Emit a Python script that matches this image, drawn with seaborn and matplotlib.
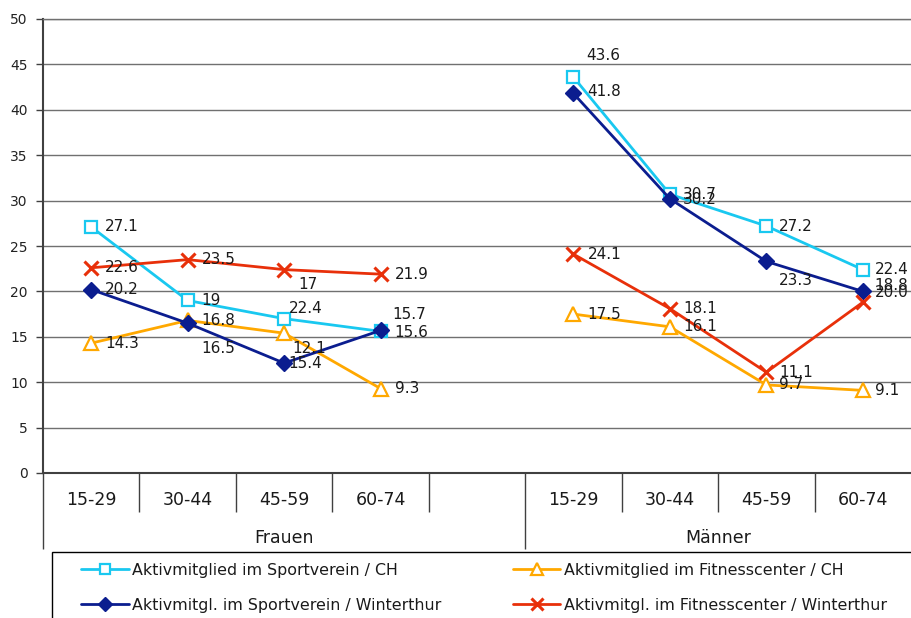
import numpy as np
import pandas as pd
import matplotlib
matplotlib.use("Agg")
import matplotlib.pyplot as plt
from matplotlib.patches import Rectangle
import seaborn as sns

# ---------------- data ----------------
age_groups = ["15-29", "30-44", "45-59", "60-74"]
sexes = ["Frauen", "Männer"]

series_names = [
    "Aktivmitglied im Sportverein / CH",
    "Aktivmitglied im Fitnesscenter / CH",
    "Aktivmitgl. im Sportverein / Winterthur",
    "Aktivmitgl. im Fitnesscenter / Winterthur",
]

# values: Frauen 15-29..60-74, then Männer 15-29..60-74
sport_ch = [27.1, 19.0, 17.0, 15.6, 43.6, 30.7, 27.2, 22.4]
fitness_ch = [14.3, 16.8, 15.4, 9.3, 17.5, 16.1, 9.7, 9.1]
sport_wi = [20.2, 16.5, 12.1, 15.7, 41.8, 30.2, 23.3, 20.0]
fitness_wi = [22.6, 23.5, 22.4, 21.9, 24.1, 18.1, 11.1, 18.8]

# data labels as shown on the chart
lbl_sport_ch = ["27.1", "19", "22.4", "15.6", "43.6", "30.7", "27.2", "22.4"]
lbl_fitness_ch = ["14.3", "16.8", "12.1", "9.3", "17.5", "16.1", "9.7", "9.1"]
lbl_sport_wi = ["20.2", "16.5", "15.4", "15.7", "41.8", "30.2", "23.3", "20.0"]
lbl_fitness_wi = ["22.6", "23.5", "17", "21.9", "24.1", "18.1", "11.1", "18.8"]

# ---------------- styles ----------------
# label offsets in pixels (dx right, dy down)
off_sport_ch = [(14, 0), (14, 0), (5, -10), (14, 1), (13, -22), (13, 0), (13, 0), (12, 0)]
off_fitness_ch = [(14, 0), (14, 0), (8, 15), (14, 0), (14, 0), (13, 0), (13, 0), (12, 0)]
off_sport_wi = [(14, 0), (14, 25), (4, 0), (12, -16), (14, -2), (13, 1), (13, 19), (12, 1)]
off_fitness_wi = [(14, 0), (14, 0), (14, 15), (14, 0), (14, 0), (13, 0), (13, 0), (12, -17)]

styles = {
    series_names[0]: dict(color="#19C8F0", marker="s", markersize=9, markerfacecolor="white",
                          markeredgecolor="#19C8F0", markeredgewidth=1.6, linewidth=2),
    series_names[1]: dict(color="#FFA800", marker="^", markersize=10, markerfacecolor="white",
                          markeredgecolor="#FFA800", markeredgewidth=1.6, linewidth=2),
    series_names[2]: dict(color="#0B1D8F", marker="D", markersize=8, markerfacecolor="#0B1D8F",
                          markeredgecolor="#0B1D8F", markeredgewidth=1, linewidth=2),
    series_names[3]: dict(color="#E8300A", marker="x", markersize=10, markerfacecolor="#E8300A",
                          markeredgecolor="#E8300A", markeredgewidth=2.2, linewidth=2),
}
legend_marker_sizes = {series_names[0]: 7, series_names[1]: 8,
                       series_names[2]: 7, series_names[3]: 8}

values = [sport_ch, fitness_ch, sport_wi, fitness_wi]
labels = [lbl_sport_ch, lbl_fitness_ch, lbl_sport_wi, lbl_fitness_wi]
offsets = [off_sport_ch, off_fitness_ch, off_sport_wi, off_fitness_wi]

rows = []
for name, vals in zip(series_names, values):
    for g, sx in enumerate(sexes):
        for i, ag in enumerate(age_groups):
            rows.append(dict(series=name, sex=sx, age=ag, pos=g * 5 + i, value=vals[g * 4 + i]))
df = pd.DataFrame(rows)

sns.set_style("white")
plt.rcParams["font.family"] = ["DejaVu Sans"]

W, H = 911, 618
fig = plt.figure(figsize=(W / 100, H / 100), dpi=100)
fig.patch.set_facecolor("white")
ax_left, ax_right, ax_top, ax_bot = 43, 911, 19, 473
ax = fig.add_axes([ax_left / W, 1 - ax_bot / H, (ax_right - ax_left) / W, (ax_bot - ax_top) / H])

handles = {}
for name in series_names:
    for sx in sexes:
        sub = df[(df.series == name) & (df.sex == sx)]
        sns.lineplot(data=sub, x="pos", y="value", ax=ax, errorbar=None, legend=False,
                     **styles[name])
        if sx == sexes[0]:
            handles[name] = ax.lines[-1]

# data labels
for name, lbls, offs in zip(series_names, labels, offsets):
    sub = df[df.series == name].reset_index(drop=True)
    for k, row in sub.iterrows():
        dx, dy = offs[k]
        ax.annotate(lbls[k], (row.pos, row.value), xytext=(dx, -dy), textcoords="offset pixels",
                    ha="left", va="center", fontsize=11, color="#1a1a1a", zorder=10)

# axes
ax.set_ylim(0, 50)
ax.set_xlim(-0.5, 8.5)
ax.set_yticks(np.arange(0, 51, 5))
ax.yaxis.grid(True, color="#707070", linewidth=1)
ax.set_axisbelow(True)
ax.spines["right"].set_visible(False)
ax.spines["top"].set_color("#707070")
ax.spines["top"].set_linewidth(1)
ax.spines["left"].set_color("#404040")
ax.spines["left"].set_linewidth(1.5)
ax.spines["bottom"].set_color("#404040")
ax.spines["bottom"].set_linewidth(1.5)
ax.tick_params(axis="y", direction="out", length=5, width=1, color="#404040",
               labelsize=10, pad=6, labelcolor="#222222", left=True)
ax.set_ylabel("")
ax.set_xlabel("")

tick_pos = [g * 5 + i for g in range(2) for i in range(4)]
ax.set_xticks(tick_pos)
ax.set_xticklabels(age_groups * 2)
ax.tick_params(axis="x", length=0, labelsize=12.5, pad=13, labelcolor="#1a1a1a")

ah = ax_bot - ax_top
xt = ax.get_xaxis_transform()
ax.vlines([0.5, 1.5, 2.5, 3.5, 5.5, 6.5, 7.5], 0, -39 / ah, transform=xt, clip_on=False,
          color="#404040", linewidth=1)
ax.vlines([-0.5, 4.5], 0, -76 / ah, transform=xt, clip_on=False, color="#404040", linewidth=1)
ax.text(2, -65 / ah, sexes[0], transform=xt, ha="center", va="center", fontsize=12.5, color="#1a1a1a")
ax.text(6.5, -65 / ah, sexes[1], transform=xt, ha="center", va="center", fontsize=12.5, color="#1a1a1a")

# legend box (extends past the figure edge as in the reference)
box_top = 552
fig.patches.append(Rectangle((52 / W, -0.2), 1.0, (H - box_top) / H + 0.2, transform=fig.transFigure,
                             fill=False, edgecolor="black", linewidth=1, zorder=5))

order = [series_names[0], series_names[2], series_names[1], series_names[3]]
leg = fig.legend([handles[n] for n in order], order, ncol=2, loc="upper left",
                 bbox_to_anchor=(81 / W, 1 - 563 / H),
                 fontsize=11.4, frameon=False,
                 handlelength=3.0, handletextpad=0.25, labelspacing=1.24, borderpad=0,
                 borderaxespad=0, columnspacing=4.5)
for n, h in zip(order, leg.legend_handles):
    h.set_markersize(legend_marker_sizes[n])
for t in leg.get_texts():
    t.set_color("#1a1a1a")

fig.savefig("out.png", dpi=100)
